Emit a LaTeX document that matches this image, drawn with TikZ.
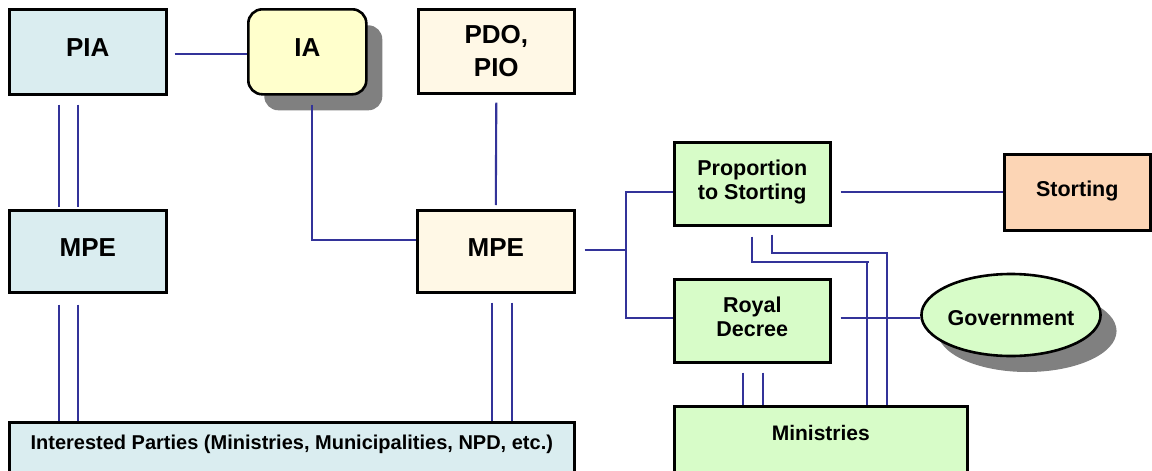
\documentclass[tikz,border=0pt]{standalone}
\usepackage{fontspec}
\setmainfont{Liberation Sans}
\usetikzlibrary{calc,shapes.geometric,shadows}

\definecolor{paleblue}{RGB}{218,237,240}
\definecolor{paleyellow}{RGB}{255,255,204}
\definecolor{cream}{RGB}{255,248,230}
\definecolor{palegreen}{RGB}{215,252,200}
\definecolor{peach}{RGB}{252,213,181}
\definecolor{linkblue}{RGB}{51,51,153}
\definecolor{shadowgray}{RGB}{128,128,128}

\tikzset{
  box/.style={draw=black, line width=2.6pt, rectangle, inner sep=0pt,
    anchor=north west, align=center,
    font=\bfseries\fontsize{21.5}{24.5}\selectfont},
  big/.style={font=\bfseries\fontsize{26}{33}\selectfont},
  lift/.style={text depth=8pt},
  link/.style={draw=linkblue, line width=2.1pt},
  shade/.style={drop shadow={shadow xshift=16pt, shadow yshift=-16pt,
    fill=shadowgray, opacity=1}},
}

\begin{document}
\begin{tikzpicture}[x=1pt,y=-1pt]
\useasboundingbox (0,0) rectangle (1152,471);

% left column
\node[box, big, lift, fill=paleblue, minimum width=157pt, minimum height=85pt] (pia) at (8,8) {PIA};
\node[box, big, lift, fill=paleblue, minimum width=157pt, minimum height=82pt] (mpe1) at (8,209) {MPE};
\node[box, fill=paleblue, minimum width=565pt, minimum height=60pt, text depth=20pt,
      font=\bfseries\fontsize{20}{22}\selectfont] (ip) at (8,421)
      {Interested Parties (Ministries, Municipalities, NPD, etc.)};

% middle column
\node[box, big, lift, fill=paleyellow, rounded corners=14pt, shade,
      minimum width=118pt, minimum height=85pt] (ia) at (247,8) {IA};
\node[box, big, fill=cream, minimum width=156pt, minimum height=84pt] (pdo) at (417,8) {PDO,\\PIO};
\node[box, big, lift, fill=cream, minimum width=157pt, minimum height=82pt] (mpe2) at (416,209) {MPE};

% right column
\node[box, lift, fill=palegreen, minimum width=156pt, minimum height=83pt] (prop) at (673,141) {Proportion\\to Storting};
\node[box, lift, fill=palegreen, minimum width=156pt, minimum height=83pt] (royal) at (673,278) {Royal\\Decree};
\node[box, fill=palegreen, minimum width=293pt, minimum height=75pt, text depth=21pt,
      font=\bfseries\fontsize{21}{24}\selectfont] (min) at (673,405) {Ministries};
\node[box, lift, fill=peach, minimum width=146pt, minimum height=76pt] (sto) at (1003,153) {Storting};
\node[draw=black, line width=2.6pt, ellipse, fill=palegreen, shade, inner sep=0pt,
      minimum width=155pt, minimum height=82pt, text height=21pt, text depth=0pt,
      font=\bfseries\fontsize{21.5}{24.5}\selectfont] (gov) at (1011,315) {Government};

% connectors
\draw[link] ($(pia.east)+(7,2.5)$) -- ($(ia.west)+(0,2.5)$);
\foreach \dx in {51,70} {
  \draw[link] ($(pia.south west)+(\dx,9)$) -- ($(mpe1.north west)+(\dx,-2)$);
  \draw[link] ($(mpe1.south west)+(\dx,11)$) -- ($(ip.north west)+(\dx,0)$);
}
\draw[link] ($(ia.south)+(5,9)$) |- ($(mpe2.west)+(0,-11)$);
\draw[link] ($(pdo.south)+(0,8)$) -- ($(mpe2.north)+(0,-4)$);
\foreach \dx in {-3.5,16.5} {
  \draw[link] ($(mpe2.south)+(\dx,9)$) coordinate (top) -- (top |- ip.north);
}
\coordinate (fork) at ($(mpe2.east)+(50,-1)$);
\draw[link] ($(mpe2.east)+(9,-1)$) -- (fork);
\draw[link] ($(prop.west)+(0,8.5)$) -| (fork) |- ($(royal.west)+(0,-2.5)$);
\draw[link] ($(prop.east)+(9,8.5)$) -- (sto.west);
\draw[link] ($(royal.east)+(9,-2.5)$) coordinate (r) -- (r -| gov.west);
\foreach \dx in {-9.5,10.5} {
  \draw[link] ($(royal.south)+(\dx,9)$) coordinate (top) -- (top |- min.north);
}
\draw[link] ($(prop.south)+(0,10)$) |- ($(min.north west)+(196,-143)$) coordinate (c);
\draw[link] ($(min.north west)+(194,-143)$) coordinate (c) -- (c |- min.north);
\draw[link] ($(prop.south)+(20,8)$) |- ($(min.north west)+(214,-152)$) coordinate (c) -- (c |- min.north);
\end{tikzpicture}
\end{document}
